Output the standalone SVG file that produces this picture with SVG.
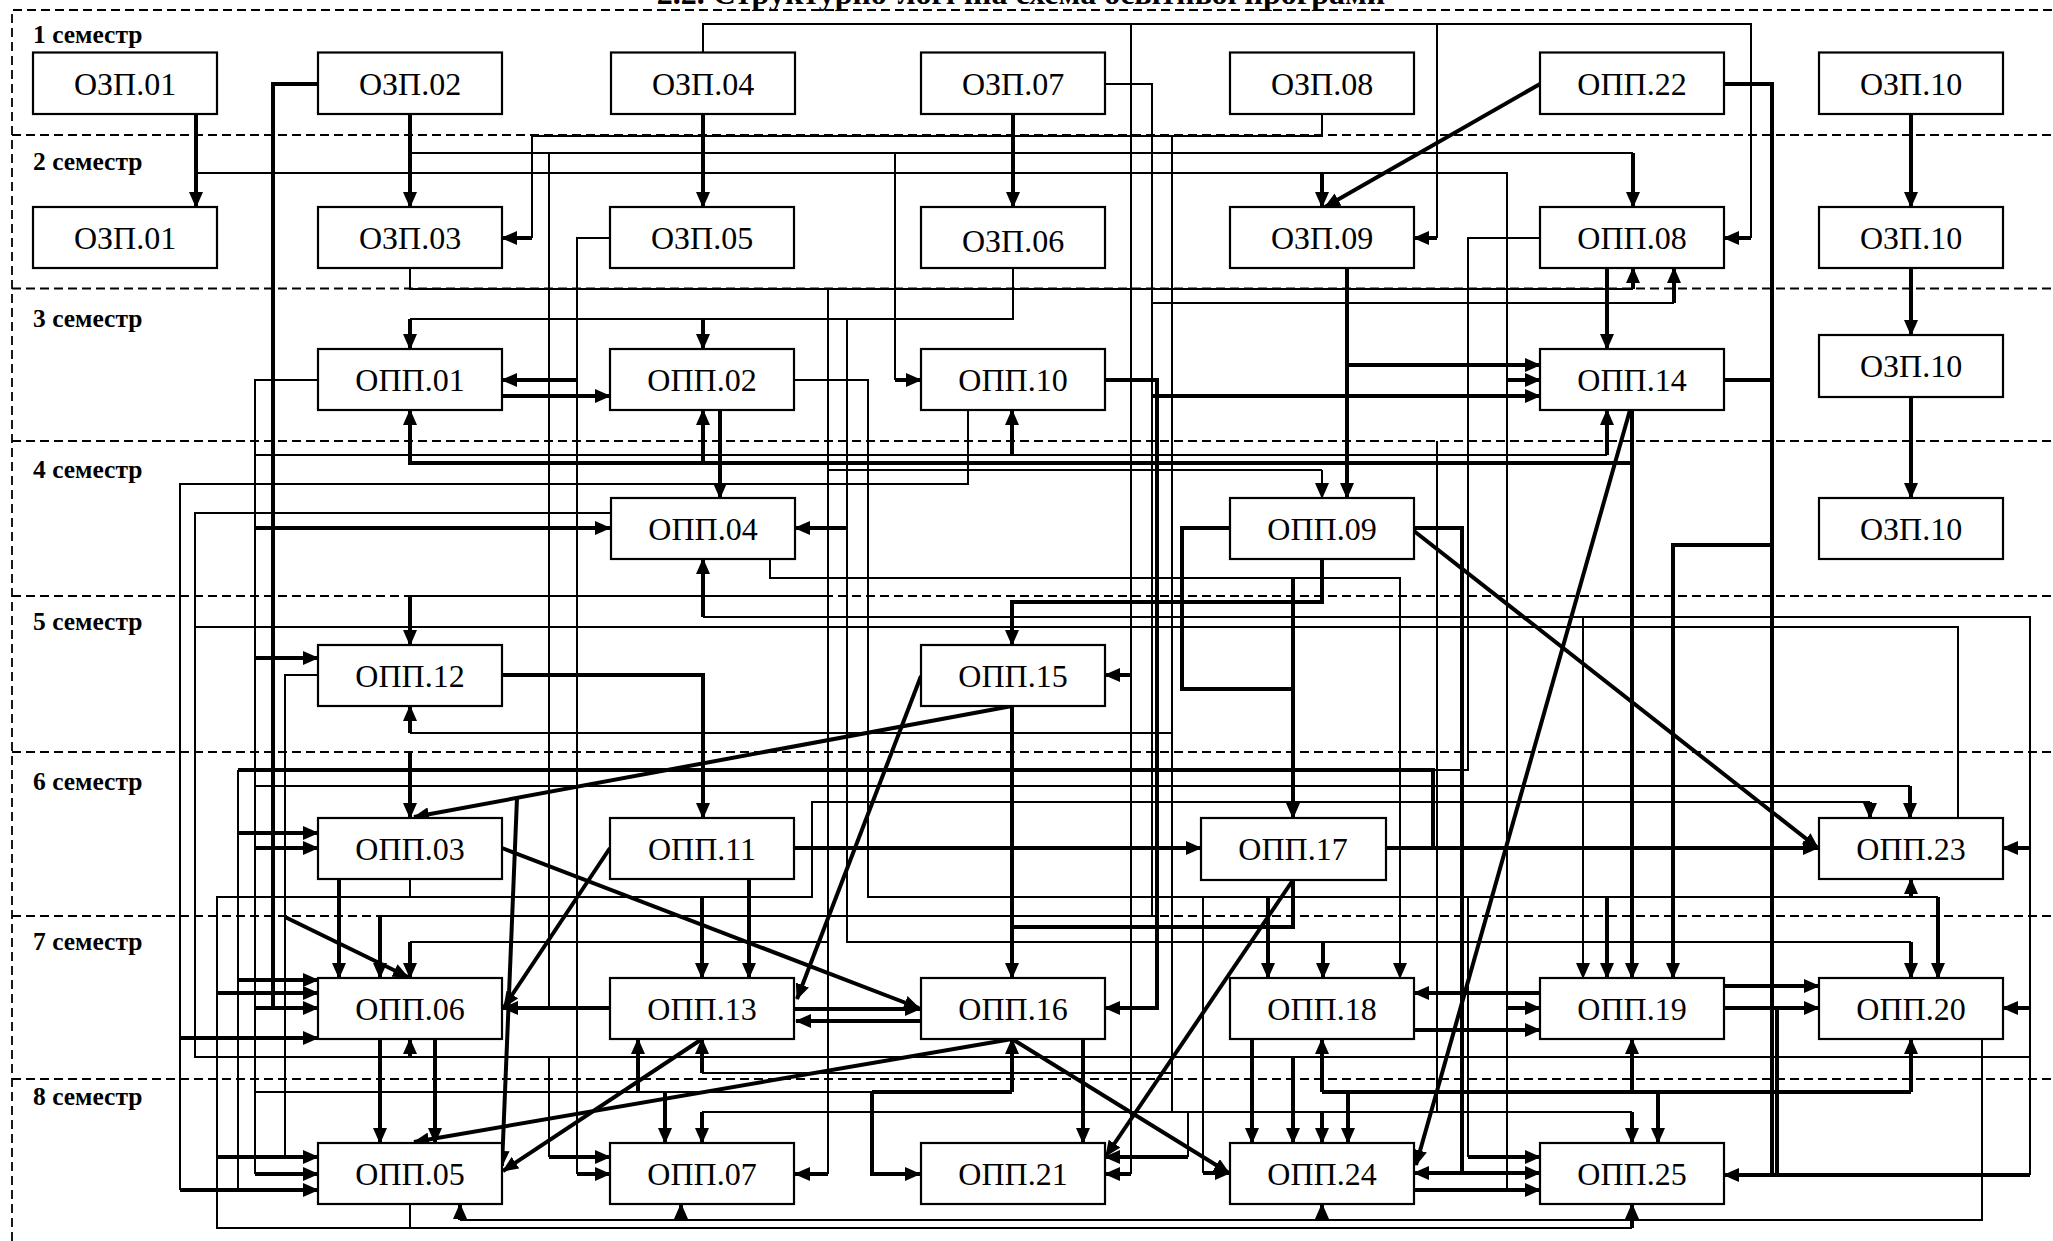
<svg xmlns="http://www.w3.org/2000/svg" width="2053" height="1241" viewBox="0 0 2053 1241">
<style>
.box{fill:#fff;stroke:#000;stroke-width:2.2}
.lbl{font-family:"Liberation Serif","Times New Roman",serif;font-size:32px;text-anchor:middle;fill:#000}
.sem{font-family:"Liberation Serif","Times New Roman",serif;font-size:25.5px;font-weight:bold;fill:#000}
.title{font-family:"Liberation Serif","Times New Roman",serif;font-size:32px;font-weight:bold;text-anchor:middle;fill:#000}
.band{fill:none;stroke:#000;stroke-width:1.8;stroke-dasharray:9 5}
.t{fill:none;stroke:#000;stroke-width:2}
.k{fill:none;stroke:#000;stroke-width:4}
.a{marker-end:url(#ah)}
</style>
<defs>
<marker id="ah" markerUnits="userSpaceOnUse" markerWidth="16" markerHeight="14" refX="15" refY="7" orient="auto"><path d="M0,0 L16,7 L0,14 z" fill="#000"/></marker>
</defs>
<rect width="2053" height="1241" fill="#fff"/>
<text class="title" x="1021" y="4">2.2. Структурно-логічна схема освітньої програми</text>
<g id="bands">
<path class="band" d="M12,1241 V10 H2053"/>
<path class="band" d="M12,135 H2053 M12,288.5 H2053 M12,441 H2053 M12,596 H2053 M12,752 H2053 M12,916 H2053 M12,1079 H2053"/>
<text class="sem" x="33" y="43">1 семестр</text>
<text class="sem" x="33" y="170">2 семестр</text>
<text class="sem" x="33" y="327">3 семестр</text>
<text class="sem" x="33" y="478">4 семестр</text>
<text class="sem" x="33" y="630">5 семестр</text>
<text class="sem" x="33" y="790">6 семестр</text>
<text class="sem" x="33" y="950">7 семестр</text>
<text class="sem" x="33" y="1105">8 семестр</text>
</g>
<g id="connectors">
<path class="t" d="M196,173 H1507 V1190"/>
<path class="t" d="M410,153 H1633"/>
<path class="t" d="M410,268 V289 H1633"/>
<path class="t" d="M1013,268 V319 H410"/>
<path class="t" d="M703,52.5 V24 H1751 V238"/>
<path class="t" d="M1437,24 V238"/>
<path class="t" d="M1131,24 V1174"/>
<path class="t" d="M1322,114 V136 H532 V238"/>
<path class="t" d="M1172,136 V1112"/>
<path class="t" d="M1105,84 H1152 V916 H380"/>
<path class="t" d="M1152,303 H1674"/>
<path class="t" d="M610,238 H577 V1174"/>
<path class="t" d="M549,153 V1008"/>
<path class="t" d="M549,1057 V1157"/>
<path class="t" d="M895,153 V380"/>
<path class="t" d="M828,289 V1174"/>
<path class="t" d="M828,470 H1322"/>
<path class="t" d="M828,596 H410"/>
<path class="t" d="M828,942 H410"/>
<path class="t" d="M847,319 V942 H1911"/>
<path class="t" d="M794,380 H868 V897 H1938"/>
<path class="t" d="M1203,897 V1173"/>
<path class="t" d="M1468,897 V1157"/>
<path class="t" d="M968,410 V484 H180 V1190"/>
<path class="t" d="M318,380 H255 V1174"/>
<path class="t" d="M255,455 H1607"/>
<path class="t" d="M255,786 H1910"/>
<path class="t" d="M255,1092 H872"/>
<path class="t" d="M610,513 H195 V1057 H2030"/>
<path class="t" d="M195,627 H1958 V818"/>
<path class="t" d="M703,617 H2030 V1175"/>
<path class="t a" d="M770,559 V578 H1400 V978"/>
<path class="t" d="M1172,733 H410"/>
<path class="t" d="M318,675 H285 V1157"/>
<path class="t" d="M1433,770 H1468 V238 H1540"/>
<path class="t" d="M238,770 V1190"/>
<path class="t" d="M410,879 V897 H217 V1228 H1632"/>
<path class="t" d="M410,897 H812 V802 H1870"/>
<path class="t" d="M702,1073 H1172"/>
<path class="t" d="M702,1112 H1632"/>
<path class="t" d="M1437,441 V1112"/>
<path class="t" d="M1188,1112 V1157"/>
<path class="t" d="M1982,1039 V1220 H460"/>
<path class="t" d="M410,1204 V1228"/>
<path class="t a" d="M1583,617 V978"/>
<path class="t a" d="M1322,470 V498"/>
<path class="k" d="M318,84 H273 V1008"/>
<path class="k" d="M1724,84 H1772 V1175"/>
<path class="k" d="M1724,380 H1772"/>
<path class="k" d="M1777,1008 V1175"/>
<path class="k a" d="M1772,545 H1673 V978"/>
<path class="k" d="M1230,528 H1182 V689 H1293"/>
<path class="k a" d="M1293,578 V818"/>
<path class="k a" d="M1322,559 V602 H1012 V645"/>
<path class="k" d="M1414,528 H1462 V1173"/>
<path class="k a" d="M1632,463 H410 V410"/>
<path class="k a" d="M1632,410 V978"/>
<path class="k a" d="M1105,380 H1157 V1008 H1105"/>
<path class="k a" d="M502,675 H703 V818"/>
<path class="k" d="M238,770 H1433 V848"/>
<path class="k" d="M1293,880 V927 H1012"/>
<path class="k" d="M872,1092 H1012"/>
<path class="k a" d="M872,1092 V1174 H920"/>
<path class="k" d="M1322,1092 H1911"/>
<path class="k a" d="M196,114 V207"/>
<path class="k a" d="M410,114 V207"/>
<path class="k a" d="M703,114 V207"/>
<path class="k a" d="M1013,114 V207"/>
<path class="k a" d="M1911,114 V207"/>
<path class="k a" d="M1911,268 V335"/>
<path class="k a" d="M1911,397 V498"/>
<path class="k a" d="M1633,153 V207"/>
<path class="k a" d="M1633,289 V268"/>
<path class="k a" d="M1674,303 V268"/>
<path class="k a" d="M1751,238 H1724"/>
<path class="k a" d="M1437,238 H1414"/>
<path class="k a" d="M532,238 H502"/>
<path class="k a" d="M410,319 V349"/>
<path class="k a" d="M703,319 V349"/>
<path class="k a" d="M577,380 H502"/>
<path class="k a" d="M502,396 H610"/>
<path class="k a" d="M895,380 H921"/>
<path class="k a" d="M1322,173 V207"/>
<path class="k a" d="M1540,84 L1325,207"/>
<path class="k a" d="M1347,268 V498"/>
<path class="k a" d="M1347,365 H1540"/>
<path class="k a" d="M1507,380 H1540"/>
<path class="k a" d="M1152,396 H1540"/>
<path class="k a" d="M1607,268 V349"/>
<path class="k a" d="M1012,455 V410"/>
<path class="k a" d="M1607,455 V410"/>
<path class="k a" d="M703,463 V410"/>
<path class="k a" d="M720,410 V498"/>
<path class="k a" d="M255,528 H610"/>
<path class="k a" d="M847,528 H795"/>
<path class="k a" d="M703,617 V559"/>
<path class="k a" d="M410,596 V645"/>
<path class="k a" d="M255,658 H318"/>
<path class="k a" d="M410,733 V706"/>
<path class="k a" d="M1131,675 H1105"/>
<path class="k a" d="M410,752 V818"/>
<path class="k a" d="M238,833 H318"/>
<path class="k a" d="M255,848 H318"/>
<path class="k a" d="M1012,706 L414,817"/>
<path class="k a" d="M921,676 L797,999"/>
<path class="k a" d="M517,798 L502,1166"/>
<path class="k a" d="M1012,706 V978"/>
<path class="k a" d="M1910,786 V818"/>
<path class="k a" d="M1870,802 V818"/>
<path class="k a" d="M1414,531 L1818,848"/>
<path class="k a" d="M1630,410 L1416,1165"/>
<path class="k a" d="M795,848 H1201"/>
<path class="k a" d="M1386,848 H1818"/>
<path class="k a" d="M2030,848 H2003"/>
<path class="k a" d="M339,879 V978"/>
<path class="k a" d="M749,879 V978"/>
<path class="k a" d="M702,897 V978"/>
<path class="k a" d="M1268,897 V978"/>
<path class="k a" d="M1607,897 V978"/>
<path class="k a" d="M1938,897 V978"/>
<path class="k a" d="M1911,897 V879"/>
<path class="k a" d="M1323,942 V978"/>
<path class="k a" d="M1911,942 V978"/>
<path class="k a" d="M380,916 V978"/>
<path class="k a" d="M410,942 V978"/>
<path class="k a" d="M285,917 L408,977"/>
<path class="k a" d="M238,980 H318"/>
<path class="k a" d="M217,993 H318"/>
<path class="k a" d="M255,1008 H318"/>
<path class="k a" d="M180,1038 H318"/>
<path class="k a" d="M610,848 L504,1007"/>
<path class="k a" d="M610,1008 H503"/>
<path class="k a" d="M502,848 L919,1008"/>
<path class="k a" d="M795,1009 H920"/>
<path class="k a" d="M921,1021 H796"/>
<path class="k a" d="M1540,993 H1414"/>
<path class="k a" d="M1507,1008 H1540"/>
<path class="k a" d="M1414,1030 H1540"/>
<path class="k a" d="M1724,986 H1819"/>
<path class="k a" d="M1724,1008 H1819"/>
<path class="k a" d="M2030,1008 H2003"/>
<path class="k a" d="M410,1057 V1039"/>
<path class="k a" d="M1293,1057 V1143"/>
<path class="k a" d="M702,1073 V1039"/>
<path class="k a" d="M638,1092 V1039"/>
<path class="k a" d="M665,1092 V1143"/>
<path class="k a" d="M1012,1092 V1039"/>
<path class="k a" d="M1322,1092 V1039"/>
<path class="k a" d="M1348,1092 V1143"/>
<path class="k a" d="M1632,1092 V1039"/>
<path class="k a" d="M1658,1092 V1143"/>
<path class="k a" d="M1911,1092 V1039"/>
<path class="k a" d="M702,1112 V1143"/>
<path class="k a" d="M1322,1112 V1143"/>
<path class="k a" d="M1632,1112 V1143"/>
<path class="k a" d="M1188,1157 H1105"/>
<path class="k a" d="M1083,1039 V1143"/>
<path class="k a" d="M1012,1039 L414,1142"/>
<path class="k a" d="M1012,1039 L1229,1173"/>
<path class="k a" d="M702,1039 L503,1171"/>
<path class="k a" d="M1293,880 L1106,1156"/>
<path class="k a" d="M380,1039 V1143"/>
<path class="k a" d="M435,1039 V1143"/>
<path class="k a" d="M217,1157 H318"/>
<path class="k a" d="M255,1174 H318"/>
<path class="k a" d="M180,1190 H318"/>
<path class="k a" d="M577,1174 H610"/>
<path class="k a" d="M549,1157 H610"/>
<path class="k a" d="M828,1174 H795"/>
<path class="k a" d="M1131,1174 H1105"/>
<path class="k a" d="M1252,1039 V1143"/>
<path class="k a" d="M1203,1173 H1230"/>
<path class="k a" d="M1462,1173 H1414"/>
<path class="k a" d="M1462,1173 H1540"/>
<path class="k a" d="M1468,1157 H1540"/>
<path class="k a" d="M1414,1190 H1540"/>
<path class="k a" d="M2030,1175 H1724"/>
<path class="k a" d="M460,1220 V1204"/>
<path class="k a" d="M681,1220 V1204"/>
<path class="k a" d="M1322,1220 V1204"/>
<path class="k a" d="M1632,1228 V1204"/>
</g>
<g id="n-ozp01-1"><rect class="box" x="33" y="52.5" width="184" height="61.5"/><text class="lbl" x="125" y="94.5">ОЗП.01</text></g>
<g id="n-ozp02"><rect class="box" x="318" y="52.5" width="184" height="61.5"/><text class="lbl" x="410" y="94.5">ОЗП.02</text></g>
<g id="n-ozp04"><rect class="box" x="611" y="52.5" width="184" height="61.5"/><text class="lbl" x="703" y="94.5">ОЗП.04</text></g>
<g id="n-ozp07"><rect class="box" x="921" y="52.5" width="184" height="61.5"/><text class="lbl" x="1013" y="94.5">ОЗП.07</text></g>
<g id="n-ozp08"><rect class="box" x="1230" y="52.5" width="184" height="61.5"/><text class="lbl" x="1322" y="94.5">ОЗП.08</text></g>
<g id="n-opp22"><rect class="box" x="1540" y="52.5" width="184" height="61.5"/><text class="lbl" x="1632" y="94.5">ОПП.22</text></g>
<g id="n-ozp10-1"><rect class="box" x="1819" y="52.5" width="184" height="61.5"/><text class="lbl" x="1911" y="94.5">ОЗП.10</text></g>
<g id="n-ozp01-2"><rect class="box" x="33" y="207" width="184" height="61"/><text class="lbl" x="125" y="249">ОЗП.01</text></g>
<g id="n-ozp03"><rect class="box" x="318" y="207" width="184" height="61"/><text class="lbl" x="410" y="249">ОЗП.03</text></g>
<g id="n-ozp05"><rect class="box" x="610" y="207" width="184" height="61"/><text class="lbl" x="702" y="249">ОЗП.05</text></g>
<g id="n-ozp06"><rect class="box" x="921" y="207" width="184" height="61"/><text class="lbl" x="1013" y="252">ОЗП.06</text></g>
<g id="n-ozp09"><rect class="box" x="1230" y="207" width="184" height="61"/><text class="lbl" x="1322" y="249">ОЗП.09</text></g>
<g id="n-opp08"><rect class="box" x="1540" y="207" width="184" height="61"/><text class="lbl" x="1632" y="249">ОПП.08</text></g>
<g id="n-ozp10-2"><rect class="box" x="1819" y="207" width="184" height="61"/><text class="lbl" x="1911" y="249">ОЗП.10</text></g>
<g id="n-opp01"><rect class="box" x="318" y="349" width="184" height="61"/><text class="lbl" x="410" y="391">ОПП.01</text></g>
<g id="n-opp02"><rect class="box" x="610" y="349" width="184" height="61"/><text class="lbl" x="702" y="391">ОПП.02</text></g>
<g id="n-opp10"><rect class="box" x="921" y="349" width="184" height="61"/><text class="lbl" x="1013" y="391">ОПП.10</text></g>
<g id="n-opp14"><rect class="box" x="1540" y="349" width="184" height="61"/><text class="lbl" x="1632" y="391">ОПП.14</text></g>
<g id="n-ozp10-3"><rect class="box" x="1819" y="335" width="184" height="62"/><text class="lbl" x="1911" y="377">ОЗП.10</text></g>
<g id="n-opp04"><rect class="box" x="611" y="498" width="184" height="61"/><text class="lbl" x="703" y="540">ОПП.04</text></g>
<g id="n-opp09"><rect class="box" x="1230" y="498" width="184" height="61"/><text class="lbl" x="1322" y="540">ОПП.09</text></g>
<g id="n-ozp10-4"><rect class="box" x="1819" y="498" width="184" height="61"/><text class="lbl" x="1911" y="540">ОЗП.10</text></g>
<g id="n-opp12"><rect class="box" x="318" y="645" width="184" height="61"/><text class="lbl" x="410" y="687">ОПП.12</text></g>
<g id="n-opp15"><rect class="box" x="921" y="645" width="184" height="61"/><text class="lbl" x="1013" y="687">ОПП.15</text></g>
<g id="n-opp03"><rect class="box" x="318" y="818" width="184" height="61"/><text class="lbl" x="410" y="860">ОПП.03</text></g>
<g id="n-opp11"><rect class="box" x="610" y="818" width="184" height="61"/><text class="lbl" x="702" y="860">ОПП.11</text></g>
<g id="n-opp17"><rect class="box" x="1201" y="818" width="185" height="62"/><text class="lbl" x="1293" y="860">ОПП.17</text></g>
<g id="n-opp23"><rect class="box" x="1819" y="818" width="184" height="61"/><text class="lbl" x="1911" y="860">ОПП.23</text></g>
<g id="n-opp06"><rect class="box" x="318" y="978" width="184" height="61"/><text class="lbl" x="410" y="1020">ОПП.06</text></g>
<g id="n-opp13"><rect class="box" x="610" y="978" width="184" height="61"/><text class="lbl" x="702" y="1020">ОПП.13</text></g>
<g id="n-opp16"><rect class="box" x="921" y="978" width="184" height="61"/><text class="lbl" x="1013" y="1020">ОПП.16</text></g>
<g id="n-opp18"><rect class="box" x="1230" y="978" width="184" height="61"/><text class="lbl" x="1322" y="1020">ОПП.18</text></g>
<g id="n-opp19"><rect class="box" x="1540" y="978" width="184" height="61"/><text class="lbl" x="1632" y="1020">ОПП.19</text></g>
<g id="n-opp20"><rect class="box" x="1819" y="978" width="184" height="61"/><text class="lbl" x="1911" y="1020">ОПП.20</text></g>
<g id="n-opp05"><rect class="box" x="318" y="1143" width="184" height="61"/><text class="lbl" x="410" y="1185">ОПП.05</text></g>
<g id="n-opp07"><rect class="box" x="610" y="1143" width="184" height="61"/><text class="lbl" x="702" y="1185">ОПП.07</text></g>
<g id="n-opp21"><rect class="box" x="921" y="1143" width="184" height="61"/><text class="lbl" x="1013" y="1185">ОПП.21</text></g>
<g id="n-opp24"><rect class="box" x="1230" y="1143" width="184" height="61"/><text class="lbl" x="1322" y="1185">ОПП.24</text></g>
<g id="n-opp25"><rect class="box" x="1540" y="1143" width="184" height="61"/><text class="lbl" x="1632" y="1185">ОПП.25</text></g>
</svg>
